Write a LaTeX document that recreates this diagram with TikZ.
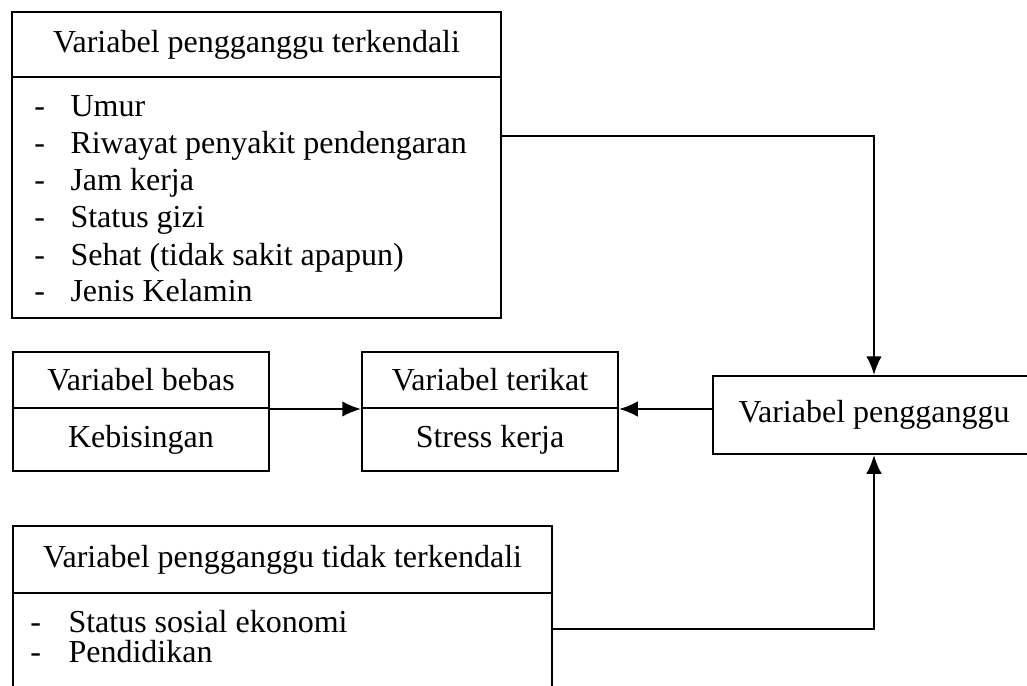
\documentclass[tikz,border=0pt]{standalone}
\usepackage{fontspec}
\setmainfont{Liberation Serif}
\usetikzlibrary{arrows.meta}

\tikzset{
  kotak/.style={draw, line width=0.8pt, inner sep=0pt, anchor=north west},
  panah/.style={line width=0.8pt, -{Latex[length=7.5pt,width=6.2pt]}},
  butir/.style={anchor=base west, inner sep=0pt}
}

\begin{document}
\begin{tikzpicture}[x=0.4pt,y=-0.4pt,font=\fontsize{12.8}{15}\selectfont]
  \useasboundingbox (0,0) rectangle (1027,686);

  % variabel pengganggu terkendali
  \node[kotak, minimum width=195.6pt, minimum height=26pt] (kendali) at (11,11) {Variabel pengganggu terkendali};
  \node[kotak, minimum width=195.6pt, minimum height=96.4pt] (kendaliisi) at (11,76) {};
  \foreach \teks [count=\i] in {Umur, Riwayat penyakit pendengaran, Jam kerja, Status gizi, {Sehat (tidak sakit apapun)}, Jenis Kelamin}
  {
    \node[butir] (ka\i) at (34,80+37*\i) {-};
    \node[butir] (kt\i) at (70,80+37*\i) {\teks};
  }

  % variabel bebas dan terikat
  \node[kotak, minimum width=102.4pt, minimum height=22.4pt] (bebas) at (12,351) {Variabel bebas};
  \node[kotak, minimum width=102.4pt, minimum height=25.2pt] (bebasisi) at (12,407) {Kebisingan};
  \node[kotak, minimum width=102.4pt, minimum height=22.4pt] (terikat) at (361,351) {Variabel terikat};
  \node[kotak, minimum width=102.4pt, minimum height=25.2pt] (terikatisi) at (361,407) {Stress kerja};

  \node[kotak, minimum width=128.8pt, minimum height=31.2pt] (pengganggu) at (712,375) {Variabel pengganggu};

  % variabel pengganggu tidak terkendali
  \node[kotak, minimum width=215.6pt, minimum height=26.8pt] (takkendali) at (12,525) {Variabel pengganggu tidak terkendali};
  \node[kotak, minimum width=215.6pt, minimum height=48pt] (takkendaliisi) at (12,592) {};
  \foreach \teks [count=\i] in {Status sosial ekonomi, Pendidikan}
  {
    \node[butir] (kb\i) at (30,602+30*\i) {-};
    \node[butir] (tb\i) at (68,602+30*\i) {\teks};
  }

  % panah
  \coordinate (dariatas) at (500,136);
  \coordinate (daribawah) at (551,629);
  \draw[panah] (dariatas) -| (pengganggu.north);
  \draw[panah] (daribawah) -| (pengganggu.south);
  \draw[panah] (bebas.south east) -- (terikat.south west);
  \draw[panah] (pengganggu.west |- terikat.south east) -- (terikat.south east);
\end{tikzpicture}
\end{document}
